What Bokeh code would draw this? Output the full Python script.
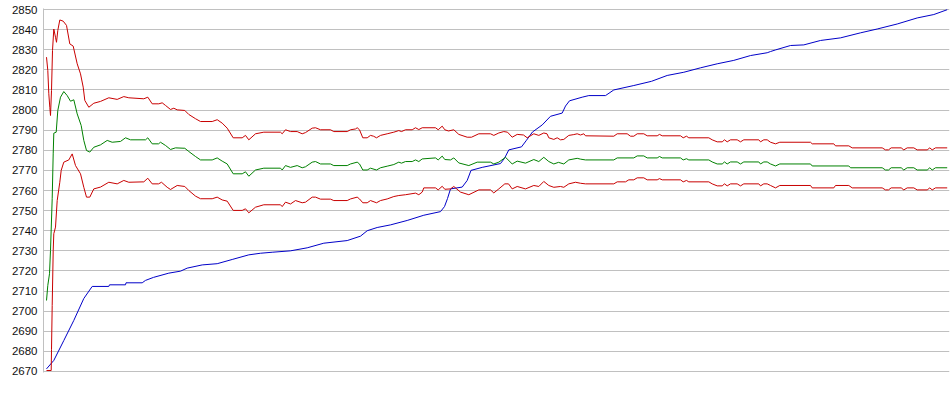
from bokeh.plotting import figure
from bokeh.models import Range1d, SingleIntervalTicker
from bokeh.embed import file_html
from bokeh.resources import INLINE

# sample positions (arbitrary x units) and values for each series
blue_x = [46, 53.3, 63.3, 73.3, 83.3, 91.7, 108.3, 109, 125, 125.5, 141.7, 145, 153, 168.3, 180, 186.7,
          201.7, 216.7, 231.7, 248.3, 260, 271.7, 290, 306.7, 323.3, 346.7, 360, 366.7, 376.7, 390,
          406.7, 423.3, 440, 444, 447, 450, 461.7, 466.7, 470.5, 481.7, 500, 504, 508.3, 521, 526,
          532, 541.7, 550, 561.7, 565, 569, 581.7, 588.3, 605, 613.3, 633.3, 651, 666.7, 683.3, 700,
          716.7, 733.3, 750, 766.7, 770, 775, 790, 803.3, 820, 840, 860, 876.7, 896.7, 916.7, 933.3, 946.7]
blue_y = [2671.3, 2675.5, 2685.4, 2695.4, 2706.3, 2712.3, 2712.3, 2713.1, 2713.1, 2714.1, 2714.1, 2715.3,
          2716.8, 2718.9, 2719.9, 2721.4, 2723.0, 2723.6, 2725.7, 2728.0, 2728.8, 2729.3, 2730.0, 2731.5,
          2733.8, 2735.1, 2737.3, 2740.0, 2741.6, 2742.9, 2745.1, 2747.7, 2749.5, 2752.0, 2756.0, 2760.8,
          2761.7, 2765.0, 2770.0, 2771.5, 2773.4, 2776.0, 2780.2, 2781.7, 2785.0, 2789.1, 2792.6, 2796.9,
          2798.5, 2802.0, 2804.6, 2806.4, 2807.2, 2807.2, 2810.0, 2812.2, 2814.3, 2817.2, 2818.8, 2821.0,
          2823.0, 2824.7, 2827.1, 2828.5, 2829.1, 2829.9, 2832.1, 2832.4, 2834.6, 2835.9, 2838.4, 2840.3,
          2842.8, 2845.8, 2847.5, 2849.9]

upper_x = [46, 47.3, 48.3, 49.3, 50, 51, 52, 53.3, 55, 56, 57.3, 59.3, 62.7, 66, 69.3, 72.7, 76.7, 80,
           82.7, 84.3, 88.3, 93.3, 100, 108.3, 116.7, 123.3, 128.3, 143.3, 147.3, 151.7, 158.3, 161.7,
           165, 170, 173.3, 176.7, 184.3, 188.3, 195, 200, 211.7, 216.7, 221.7, 226.7, 232.7, 241.7, 245,
           248.3, 255, 263.3, 280, 281.7, 285, 290, 296.7, 301.7, 305, 311.7, 315, 320, 330, 333.3, 346.7,
           350, 355, 356.7, 359, 362.3, 366.7, 370, 373, 376, 380, 386.7, 393.3, 398.3, 401, 405, 411.7,
           415, 418.3, 421.7, 435, 437.7, 441.7, 444.3, 448, 453.3, 458.3, 466.7, 471, 478.3, 490, 493.3,
           498.3, 503.3, 507, 511.7, 516.7, 523, 526.7, 533.3, 538.3, 543.3, 546.5, 548.3, 553.3, 556.7,
           560, 563.3, 568.3, 573.3, 576.7, 580, 583.3, 585, 613.3, 616.7, 626.7, 630, 633.3, 636.7, 643.3,
           646.7, 656.7, 659, 661.7, 680, 682.7, 686, 688.3, 708.3, 711.7, 716.7, 721.7, 724, 726.7, 730,
           736.7, 740, 743.3, 758.3, 760, 763.3, 766.7, 770, 775, 779.3, 810, 811.7, 833.3, 835, 848.3,
           851.7, 881.7, 885, 888, 890.7, 900.7, 903.3, 906.7, 913.3, 916.7, 926.7, 929.3, 931.7, 935, 946.7]
upper_y = [2826.3, 2819.7, 2808.1, 2801.4, 2797.3, 2809.7, 2829.6, 2840.3, 2836.2, 2833.7, 2839.6, 2844.8,
           2844.2, 2842.1, 2832.9, 2831.8, 2823.0, 2818.0, 2811.4, 2804.8, 2801.4, 2803.4, 2804.3, 2806.1,
           2805.3, 2806.7, 2806.1, 2805.6, 2806.4, 2803.1, 2803.1, 2803.6, 2802.3, 2800.3, 2800.9, 2800.1,
           2799.8, 2797.8, 2795.7, 2794.3, 2794.3, 2795.2, 2793.5, 2791.0, 2786.2, 2786.2, 2787.4, 2785.2,
           2788.2, 2789.0, 2789.0, 2788.2, 2790.2, 2789.3, 2789.3, 2788.2, 2788.8, 2791.0, 2791.2, 2790.2,
           2790.2, 2789.3, 2789.3, 2790.2, 2790.6, 2791.2, 2790.2, 2786.2, 2786.2, 2787.4, 2787.0, 2786.2,
           2787.4, 2788.2, 2789.0, 2789.8, 2789.3, 2790.2, 2790.2, 2791.2, 2790.3, 2791.2, 2791.2, 2790.2,
           2792.0, 2790.2, 2789.6, 2790.2, 2787.9, 2786.5, 2786.5, 2788.2, 2788.2, 2787.4, 2788.6, 2789.3,
           2789.0, 2786.5, 2787.9, 2787.6, 2786.2, 2788.2, 2787.4, 2788.6, 2788.2, 2786.2, 2785.4, 2786.2,
           2785.2, 2785.4, 2787.4, 2787.8, 2788.2, 2787.6, 2788.2, 2787.2, 2787.0, 2788.2, 2788.2, 2787.0,
           2787.0, 2788.2, 2788.2, 2787.2, 2787.2, 2787.9, 2787.2, 2787.2, 2786.2, 2787.0, 2786.2, 2786.2,
           2785.2, 2784.2, 2784.2, 2785.2, 2784.2, 2785.2, 2785.2, 2784.2, 2785.2, 2785.2, 2784.2, 2785.2,
           2785.2, 2784.0, 2783.2, 2784.0, 2784.0, 2783.2, 2783.2, 2782.2, 2782.2, 2781.2, 2781.2, 2780.2,
           2780.2, 2781.2, 2781.2, 2780.2, 2781.2, 2781.2, 2780.2, 2780.2, 2781.2, 2780.2, 2781.2, 2781.2]

mid_x = [46, 47.3, 49, 50, 51.7, 52.7, 53.3, 55.7, 57.3, 60, 63.3, 66.7, 70, 73.3, 76.7, 80.7, 83.3, 86,
         89.3, 93.3, 100, 106.7, 111.7, 120, 125, 130, 145, 147.3, 151.7, 158, 160, 165, 170, 175, 184.3,
         188.3, 195, 200, 211.7, 216.7, 221.7, 226.7, 232.7, 241.7, 245, 248.3, 255, 263.3, 280, 281.7,
         285, 290, 296.7, 301.7, 305, 311.7, 315, 320, 330, 333.3, 346.7, 350, 356.7, 359, 362.3, 366.7,
         370, 376, 380, 386.7, 393.3, 398.3, 401, 405, 411.7, 415, 418.3, 421.7, 435, 437.7, 441.7, 444.3,
         450, 453.3, 458.3, 468.3, 476.7, 490, 493.3, 498.3, 505, 511.7, 516.7, 525, 533.3, 538.3, 543.3,
         548.3, 553.3, 558, 563.3, 568.3, 576.7, 580, 585, 613.3, 616.7, 633.3, 636.7, 643.3, 646.7, 656.7,
         659, 661.7, 680, 682.7, 686, 688.3, 708.3, 711.7, 716.7, 721.7, 724, 726.7, 730, 736.7, 740, 743.3,
         758.3, 760, 763.3, 766.7, 770, 775, 779.3, 810, 811.7, 848.3, 850, 881.7, 885, 888, 890.7, 900.7,
         903.3, 906.7, 913.3, 916.7, 926.7, 929.3, 931.7, 935, 946.7]
mid_y = [2705.3, 2712.8, 2718.6, 2730.2, 2755.9, 2778.2, 2788.5, 2789.0, 2799.8, 2806.4, 2809.2, 2807.2,
         2804.4, 2805.1, 2798.1, 2792.3, 2784.9, 2779.9, 2779.1, 2781.5, 2782.7, 2784.9, 2784.0, 2784.4,
         2786.2, 2785.2, 2785.2, 2786.2, 2783.2, 2783.2, 2784.0, 2782.4, 2780.4, 2781.2, 2781.0, 2779.4,
         2776.9, 2775.2, 2775.2, 2776.2, 2774.6, 2773.2, 2768.3, 2768.3, 2769.3, 2767.1, 2770.2, 2771.1,
         2771.1, 2770.2, 2772.4, 2771.5, 2772.4, 2771.3, 2771.8, 2774.1, 2774.4, 2773.2, 2773.2, 2772.4,
         2772.4, 2773.2, 2774.1, 2773.2, 2770.2, 2770.2, 2771.1, 2770.2, 2771.3, 2772.1, 2772.9, 2774.1,
         2773.6, 2774.4, 2774.4, 2775.2, 2774.4, 2775.7, 2776.2, 2775.2, 2777.1, 2775.4, 2775.2, 2776.2,
         2773.7, 2772.4, 2774.1, 2774.1, 2773.2, 2774.1, 2776.5, 2773.2, 2774.6, 2773.6, 2775.4, 2774.4,
         2776.5, 2774.4, 2773.2, 2774.0, 2773.2, 2775.2, 2776.0, 2775.6, 2775.2, 2775.2, 2776.2, 2776.2,
         2777.2, 2777.2, 2776.2, 2776.2, 2776.9, 2776.2, 2776.2, 2775.2, 2775.8, 2775.2, 2775.2, 2774.2,
         2773.2, 2773.2, 2774.2, 2773.2, 2774.2, 2774.2, 2773.2, 2774.2, 2774.2, 2773.2, 2774.2, 2774.2,
         2773.2, 2772.2, 2773.2, 2773.2, 2772.2, 2772.2, 2771.3, 2771.3, 2770.2, 2770.2, 2771.3, 2771.3,
         2770.2, 2771.3, 2771.3, 2770.2, 2770.2, 2771.3, 2770.2, 2771.3, 2771.3]

lower_x = [46, 50.7, 51, 51.7, 52.7, 53.3, 55, 56.7, 59.3, 60.7, 63.3, 68.3, 71.7, 75, 80, 83.3, 86, 89.3,
           93.3, 100, 108.3, 116.7, 123.3, 128.3, 143.3, 147.3, 151.7, 158, 161, 166.7, 170, 176.7, 184.3,
           188.3, 195, 200, 211.7, 216.7, 221.7, 226.7, 232.7, 241.7, 245, 248.3, 255, 263.3, 280, 281.7,
           285, 290, 295, 301.7, 305, 311.7, 315, 320, 330, 333.3, 346.7, 350, 356.7, 359, 362.3, 366.7, 370,
           376, 380, 386.7, 393.3, 398.3, 405, 415, 418.3, 421.7, 423.3, 435, 437.7, 441.7, 444.3, 450,
           453.3, 460, 468.3, 478.3, 490, 493.3, 498.3, 504.3, 508, 511.7, 516.7, 525, 533.3, 538.3, 543.3,
           548.3, 553.3, 560, 563.3, 568.3, 575, 580, 585, 613.3, 616.7, 625, 628.3, 633.3, 636.7, 643.3,
           646.7, 656.7, 659, 661.7, 680, 682.7, 686, 688.3, 708.3, 711.7, 716.7, 721.7, 724, 726.7, 730,
           736.7, 740, 743.3, 758.3, 760, 763.3, 766.7, 770, 775, 779.3, 810, 811.7, 833.3, 835, 848.3,
           851.7, 881.7, 885, 888, 890.7, 900.7, 903.3, 906.7, 913.3, 916.7, 926.7, 929.3, 931.7, 935, 946.7]
lower_y = [2670.5, 2670.5, 2680.8, 2702.8, 2730.0, 2738.5, 2741.8, 2755.0, 2764.1, 2770.0, 2774.1, 2775.2,
           2778.2, 2772.4, 2768.3, 2761.6, 2756.7, 2756.7, 2760.8, 2761.7, 2764.1, 2763.3, 2765.0, 2764.1,
           2764.3, 2766.1, 2763.3, 2763.3, 2764.1, 2761.6, 2760.5, 2762.5, 2762.0, 2760.0, 2757.2, 2755.9,
           2755.9, 2756.7, 2755.3, 2754.7, 2750.1, 2750.1, 2750.9, 2748.9, 2751.7, 2752.9, 2752.9, 2752.0,
           2754.2, 2753.3, 2755.0, 2753.9, 2754.2, 2756.7, 2756.7, 2755.7, 2755.7, 2755.0, 2755.0, 2755.8,
           2756.7, 2755.8, 2753.9, 2753.9, 2755.0, 2753.9, 2755.0, 2755.8, 2757.0, 2757.5, 2757.9, 2758.7,
           2757.9, 2759.2, 2761.3, 2761.3, 2760.3, 2762.1, 2760.6, 2760.8, 2762.0, 2759.2, 2757.9, 2760.3,
           2760.3, 2758.8, 2760.8, 2763.3, 2763.3, 2760.8, 2762.0, 2760.8, 2762.5, 2762.0, 2764.5, 2762.5,
           2761.6, 2762.0, 2761.6, 2763.3, 2764.1, 2763.6, 2763.3, 2763.3, 2764.3, 2764.3, 2765.3, 2765.3,
           2766.3, 2766.3, 2765.3, 2765.3, 2765.9, 2765.3, 2765.3, 2764.3, 2765.0, 2764.3, 2764.3, 2763.3,
           2762.3, 2762.3, 2763.3, 2762.3, 2763.3, 2763.3, 2762.3, 2763.3, 2763.3, 2762.3, 2763.3, 2763.3,
           2762.5, 2761.3, 2762.5, 2762.5, 2761.3, 2761.3, 2762.5, 2762.5, 2761.3, 2761.3, 2760.3, 2760.3,
           2761.3, 2761.3, 2760.3, 2761.3, 2761.3, 2760.3, 2760.3, 2761.3, 2760.3, 2761.3, 2761.3]

y_min, y_max, y_step = 2670, 2850, 10

p = figure(width=950, height=390, output_backend="svg", toolbar_location=None,
           x_axis_type=None, x_range=Range1d(43, 949),
           y_range=Range1d(y_min - 0.5, y_max + 0.5),
           min_border_left=43, min_border_right=1, min_border_top=8, min_border_bottom=18)
p.styles = {"position": "absolute", "left": "0px", "top": "0px"}
p.outline_line_color = None
p.background_fill_color = "white"
p.border_fill_color = "white"

p.yaxis.ticker = SingleIntervalTicker(interval=y_step)
p.yaxis.axis_line_color = "#c0c0c0"
p.yaxis.major_tick_line_color = None
p.yaxis.major_tick_out = 0
p.yaxis.major_tick_in = 0
p.yaxis.minor_tick_line_color = None
p.yaxis.minor_tick_out = 0
p.yaxis.major_label_text_font = "Liberation Sans"
p.yaxis.major_label_text_font_size = "11.5px"
p.yaxis.major_label_text_color = "#111111"
p.yaxis.major_label_standoff = 6
p.ygrid.grid_line_color = "#c0c0c0"
p.ygrid.ticker = SingleIntervalTicker(interval=y_step)
p.xgrid.visible = False

p.line(blue_x, blue_y, line_color="#0000c8", line_width=1)
p.line(upper_x, upper_y, line_color="#c80000", line_width=1)
p.line(mid_x, mid_y, line_color="#008000", line_width=1)
p.line(lower_x, lower_y, line_color="#c80000", line_width=1)

open("out.html", "w").write(file_html(p, INLINE))
